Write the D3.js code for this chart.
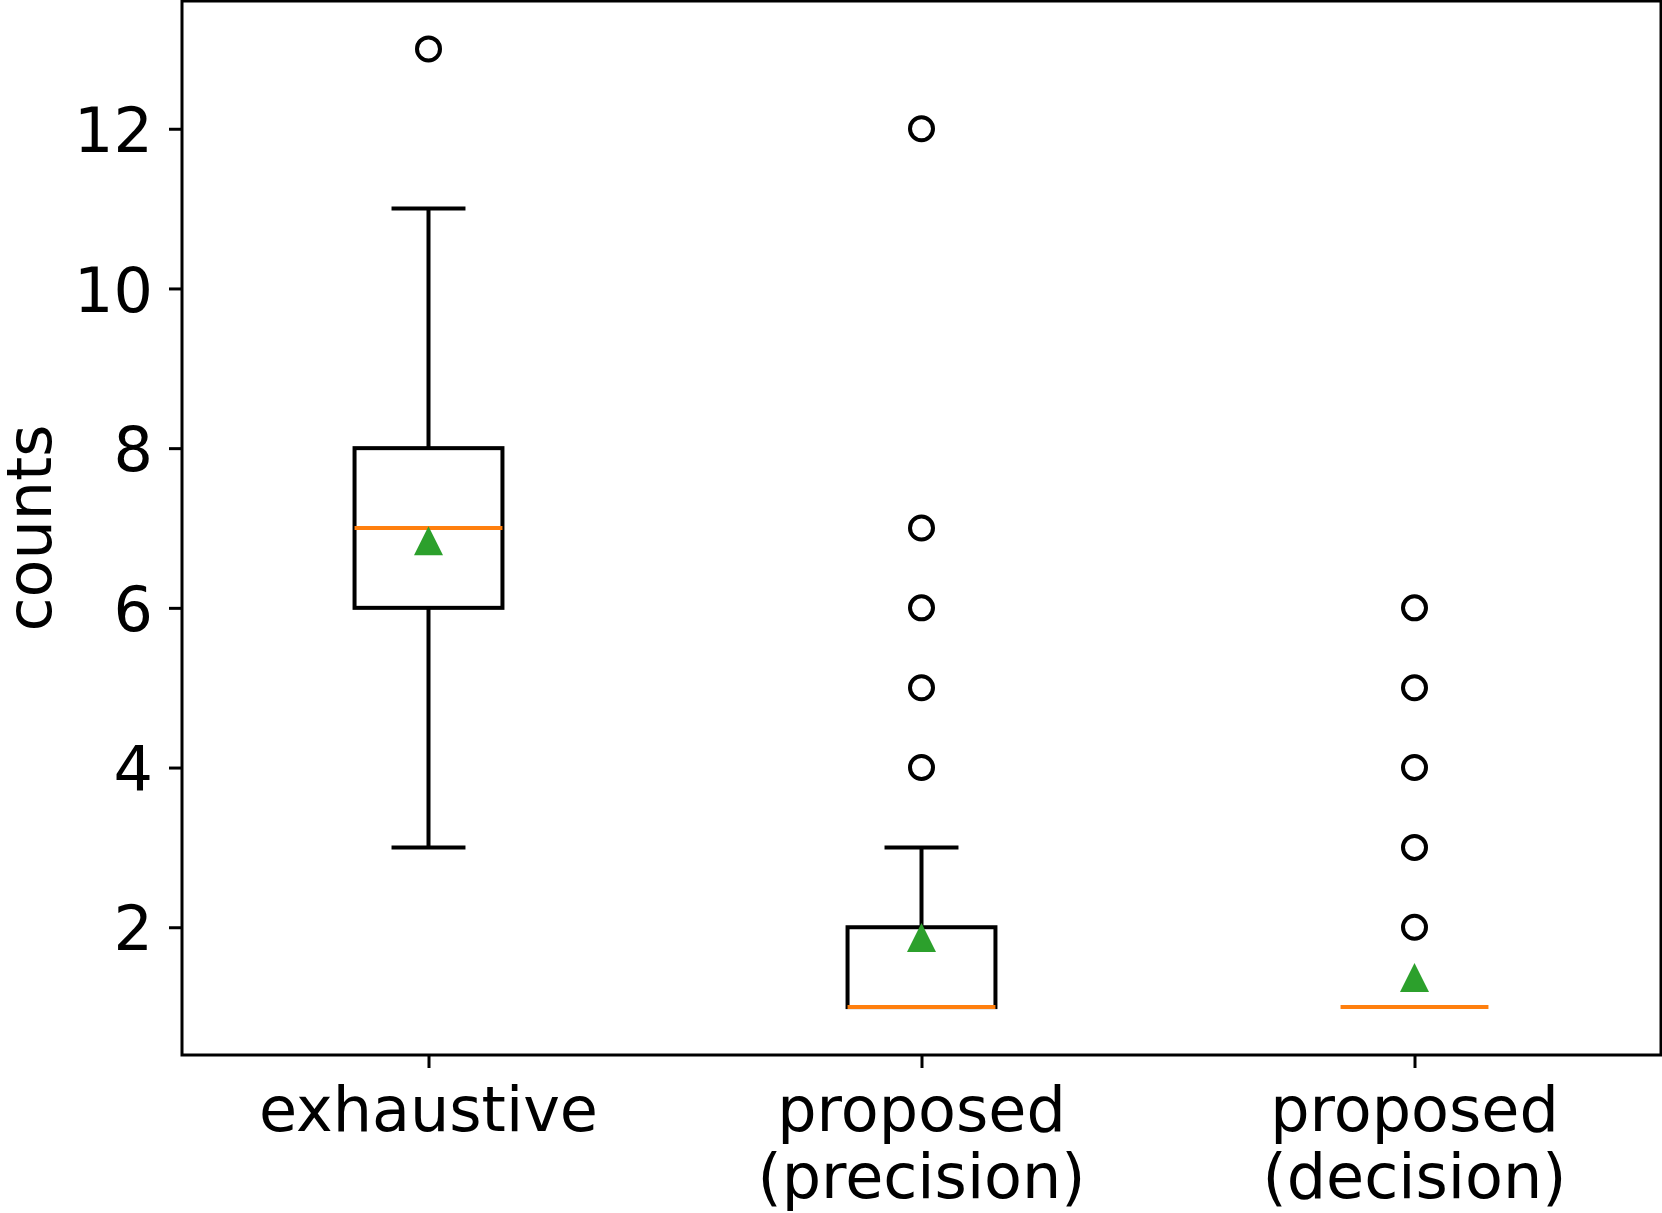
<!DOCTYPE html>
<html>
<head>
<meta charset="utf-8">
<script src="https://cdn.jsdelivr.net/npm/d3@7"></script>
<style>
  html, body { margin: 0; padding: 0; background: #fff; }
  svg { display: block; font-family: "DejaVu Sans", sans-serif; }
</style>
</head>
<body>
<div id="chart"></div>
<script>
// Box plot data
const CATEGORIES = ['exhaustive', 'proposed\n(precision)', 'proposed\n(decision)'];
const WHISKER_LOW = [3, 1, 1];
const Q1 = [6, 1, 1];
const MEDIAN = [7, 1, 1];
const Q3 = [8, 2, 1];
const WHISKER_HIGH = [11, 3, 1];
const MEANS = [6.84, 1.87, 1.37];
const FLIERS = [[13], [4, 5, 6, 7, 12], [2, 3, 4, 5, 6]];
const Y_TICKS = [2, 4, 6, 8, 10, 12];

const width = 1662, height = 1213;
const margin = { top: 1, right: 1, bottom: 158, left: 182 };
const fontSize = 62;

const svg = d3.select('#chart')
    .append('svg')
    .attr('width', width)
    .attr('height', height);

const x = d3.scaleLinear()
    .domain([0.5, 3.5])
    .range([margin.left, width - margin.right]);

const y = d3.scaleLinear()
    .domain([0.4, 13.6])
    .range([height - margin.bottom, margin.top]);

const boxes = CATEGORIES.map((c, i) => ({
    name: c, pos: i + 1,
    lo: WHISKER_LOW[i], q1: Q1[i], med: MEDIAN[i], q3: Q3[i], hi: WHISKER_HIGH[i],
    mean: MEANS[i], fliers: FLIERS[i]
}));

const boxW = 0.3, capW = 0.15;
const lw = 4;

const g = svg.append('g');

// whiskers
g.selectAll('.whisker')
    .data(boxes.flatMap(b => [[b, b.lo, b.q1], [b, b.q3, b.hi]]))
    .join('line')
    .attr('x1', d => x(d[0].pos)).attr('x2', d => x(d[0].pos))
    .attr('y1', d => y(d[1])).attr('y2', d => y(d[2]))
    .attr('stroke', '#000').attr('stroke-width', lw);

// caps
g.selectAll('.cap')
    .data(boxes.flatMap(b => [[b, b.lo], [b, b.hi]]))
    .join('line')
    .attr('x1', d => x(d[0].pos - capW / 2)).attr('x2', d => x(d[0].pos + capW / 2))
    .attr('y1', d => y(d[1])).attr('y2', d => y(d[1]))
    .attr('stroke', '#000').attr('stroke-width', lw);

// boxes
g.selectAll('.box')
    .data(boxes)
    .join('rect')
    .attr('x', d => x(d.pos - boxW / 2))
    .attr('width', d => x(d.pos + boxW / 2) - x(d.pos - boxW / 2))
    .attr('y', d => y(d.q3))
    .attr('height', d => y(d.q1) - y(d.q3))
    .attr('fill', 'none')
    .attr('stroke', '#000').attr('stroke-width', lw)
    .attr('stroke-linejoin', 'miter');

// medians
g.selectAll('.median')
    .data(boxes)
    .join('line')
    .attr('x1', d => x(d.pos - boxW / 2)).attr('x2', d => x(d.pos + boxW / 2))
    .attr('y1', d => y(d.med)).attr('y2', d => y(d.med))
    .attr('stroke', '#ff7f0e').attr('stroke-width', lw);

// fliers
g.selectAll('.flier')
    .data(boxes.flatMap(b => b.fliers.map(v => [b.pos, v])))
    .join('circle')
    .attr('cx', d => x(d[0])).attr('cy', d => y(d[1]))
    .attr('r', 11.5)
    .attr('fill', 'none')
    .attr('stroke', '#000').attr('stroke-width', 4);

// means (triangles)
const tri = 14.5;
g.selectAll('.mean')
    .data(boxes)
    .join('path')
    .attr('d', d => {
        const cx = x(d.pos), cy = y(d.mean);
        return `M${cx},${cy - tri}L${cx + tri},${cy + tri}L${cx - tri},${cy + tri}Z`;
    })
    .attr('fill', '#2ca02c');

// axes frame
svg.append('rect')
    .attr('x', margin.left).attr('y', margin.top)
    .attr('width', width - margin.left - margin.right)
    .attr('height', height - margin.top - margin.bottom)
    .attr('fill', 'none').attr('stroke', '#000').attr('stroke-width', 3);

// y axis
const yAxis = svg.append('g')
    .attr('transform', `translate(${margin.left},0)`)
    .call(d3.axisLeft(y).tickValues(Y_TICKS).tickSize(13).tickPadding(16).tickFormat(d3.format('d')));
yAxis.select('.domain').remove();
yAxis.selectAll('.tick line').attr('stroke', '#000').attr('stroke-width', 3);
yAxis.selectAll('.tick text')
    .attr('fill', '#000')
    .attr('font-size', fontSize)
    .attr('font-family', '"DejaVu Sans", sans-serif')
    .attr('dy', '0.365em');

// x axis ticks
const xAxis = svg.append('g')
    .attr('transform', `translate(0,${height - margin.bottom})`)
    .call(d3.axisBottom(x).tickValues([1, 2, 3]).tickSize(13).tickFormat(''));
xAxis.select('.domain').remove();
xAxis.selectAll('.tick line').attr('stroke', '#000').attr('stroke-width', 3);

// x tick labels (multi-line)
const xl = svg.append('g').selectAll('text')
    .data(boxes)
    .join('text')
    .attr('x', d => x(d.pos))
    .attr('y', 1131)
    .attr('text-anchor', 'middle')
    .attr('font-size', fontSize)
    .attr('fill', '#000');
xl.each(function(d) {
    const lines = d.name.split('\n');
    d3.select(this).selectAll('tspan')
        .data(lines)
        .join('tspan')
        .attr('x', x(d.pos))
        .attr('dy', (l, i) => i === 0 ? 0 : 67)
        .text(l => l);
});

// y label
svg.append('text')
    .attr('transform', `translate(51,${(margin.top + height - margin.bottom) / 2}) rotate(-90)`)
    .attr('text-anchor', 'middle')
    .attr('font-size', fontSize)
    .attr('fill', '#000')
    .text('counts');
</script>
</body>
</html>
